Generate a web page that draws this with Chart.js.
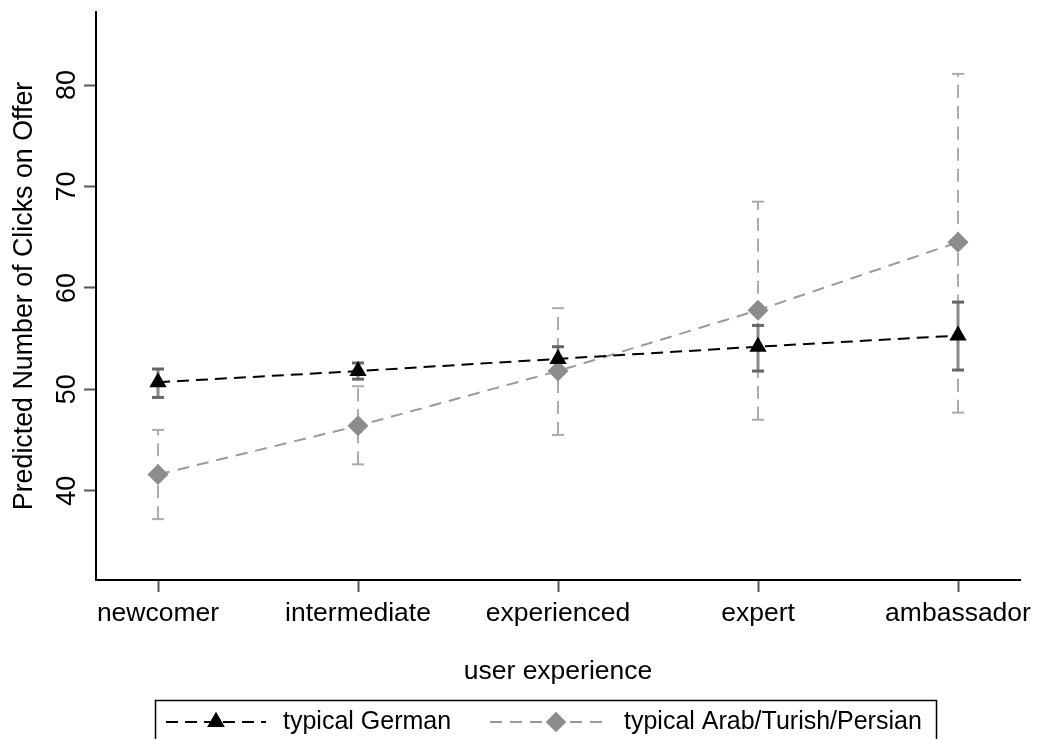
<!DOCTYPE html>
<html>
<head>
<meta charset="utf-8">
<script src="https://cdn.jsdelivr.net/npm/chart.js@4.4.0/dist/chart.umd.min.js"></script>
<style>
  html, body { margin: 0; padding: 0; background: #fff; }
  #wrap { width: 1039px; height: 739px; position: relative; overflow: hidden; }
</style>
</head>
<body>
<div id="wrap"><canvas id="c" width="1039" height="739"></canvas></div>
<script>
// ---- data ----
const categories = ['newcomer', 'intermediate', 'experienced', 'expert', 'ambassador'];
const yTickValues = [40, 50, 60, 70, 80];
const germanMean = [50.7, 51.8, 53.0, 54.2, 55.3];
const germanLow  = [49.2, 51.0, 51.8, 51.8, 51.9];
const germanHigh = [52.0, 52.6, 54.2, 56.3, 58.6];
const arabMean = [41.6, 46.4, 51.8, 57.8, 64.5];
const arabLow  = [37.2, 42.6, 45.5, 47.0, 47.7];
const arabHigh = [46.0, 50.3, 58.0, 68.5, 81.1];
const seriesLabels = ['typical German', 'typical Arab/Turish/Persian'];
const xTitle = 'user experience';
const yTitle = 'Predicted Number of Clicks on Offer';

// ---- helpers to build library structures from the arrays ----
function meanPoints(vals) { return vals.map((v, i) => ({ x: i, y: v })); }
function ciPoints(lo, hi) {
  const out = [];
  lo.forEach((l, i) => { out.push({ x: i, y: l }, { x: i, y: hi[i] }, { x: i, y: null }); });
  return out;
}

const FONT = "'Liberation Sans', Arial, Helvetica, sans-serif";
Chart.defaults.font.family = FONT;
Chart.defaults.color = '#000';

const GERMAN_COLOR = '#000000';
const ARAB_LINE = '#9a9a9a';
const ARAB_MARK = '#8c8c8c';

const datasets = [
  { // German mean line
    label: seriesLabels[0], data: meanPoints(germanMean), order: 1,
    borderColor: GERMAN_COLOR, borderWidth: 2, borderDash: [12, 7],
    pointStyle: 'triangle', pointRadius: 10, pointBackgroundColor: GERMAN_COLOR,
    pointBorderColor: GERMAN_COLOR, pointBorderWidth: 0, tension: 0
  },
  { // Arab mean line
    label: seriesLabels[1], data: meanPoints(arabMean), order: 2,
    borderColor: ARAB_LINE, borderWidth: 2, borderDash: [12, 8],
    pointStyle: 'rectRot', pointRadius: 10.5, pointBackgroundColor: ARAB_MARK,
    pointBorderColor: ARAB_MARK, pointBorderWidth: 0, tension: 0
  },
  { // German CI
    label: 'ci-german', data: ciPoints(germanLow, germanHigh), order: 3,
    borderColor: '#888888', borderWidth: 3, spanGaps: false,
    pointStyle: 'line', pointRadius: 6, pointBorderColor: '#666666', pointBorderWidth: 3,
    pointBackgroundColor: '#666666'
  },
  { // Arab CI
    label: 'ci-arab', data: ciPoints(arabLow, arabHigh), order: 4,
    borderColor: '#ababab', borderWidth: 2, borderDash: [13, 8], spanGaps: false,
    pointStyle: 'line', pointRadius: 6, pointBorderColor: '#ababab', pointBorderWidth: 2,
    pointBackgroundColor: '#ababab'
  }
];

const legendPlugin = {
  id: 'boxLegend',
  afterDraw(chart) {
    const ctx = chart.ctx;
    const dsG = chart.data.datasets[0];
    const dsA = chart.data.datasets[1];
    ctx.save();
    ctx.strokeStyle = '#000';
    ctx.lineWidth = 1.5;
    ctx.strokeRect(155.5, 700.5, 781, 60);
    const yc = 722;
    const items = [
      { ds: dsG, x0: 166, x1: 266, mx: 216, tx: 283, text: seriesLabels[0] },
      { ds: dsA, x0: 490, x1: 606, mx: 556, tx: 624, text: seriesLabels[1] }
    ];
    items.forEach(it => {
      ctx.save();
      ctx.strokeStyle = it.ds.borderColor;
      ctx.lineWidth = it.ds.borderWidth;
      ctx.setLineDash(it.ds.borderDash);
      ctx.beginPath();
      ctx.moveTo(it.x0, yc); ctx.lineTo(it.x1, yc);
      ctx.stroke();
      ctx.restore();
      ctx.save();
      ctx.fillStyle = it.ds.pointBackgroundColor;
      ctx.strokeStyle = it.ds.pointBackgroundColor;
      ctx.lineWidth = 0.01;
      Chart.helpers.drawPoint(ctx, { pointStyle: it.ds.pointStyle, radius: 10, rotation: 0, borderWidth: 0 }, it.mx, yc);
      ctx.fill();
      ctx.restore();
      ctx.fillStyle = '#000';
      ctx.font = '25px ' + FONT;
      ctx.textBaseline = 'middle';
      ctx.textAlign = 'left';
      ctx.fillText(it.text, it.tx, yc);
    });
    ctx.restore();
  }
};

new Chart(document.getElementById('c'), {
  type: 'line',
  data: { datasets },
  plugins: [legendPlugin],
  options: {
    responsive: false,
    animation: false,
    events: [],
    layout: { padding: { top: 12, right: 19, bottom: 39, left: 0 } },
    plugins: { legend: { display: false }, tooltip: { enabled: false } },
    scales: {
      x: {
        type: 'linear', min: -0.31, max: 4.31,
        afterBuildTicks: s => { s.ticks = categories.map((c, i) => ({ value: i })); },
        afterFit: s => { s.height = 120; s.paddingLeft = 0; s.paddingRight = 0; },
        ticks: {
          autoSkip: false, maxRotation: 0, minRotation: 0, padding: 6,
          font: { size: 26.5 }, color: '#000',
          callback: v => categories[v]
        },
        grid: { display: true, drawOnChartArea: false, drawTicks: true, tickLength: 12, tickColor: '#555', tickWidth: 2 },
        border: { display: true, color: '#000', width: 2 },
        title: { display: true, text: xTitle, font: { size: 26.5 }, color: '#000', padding: { top: 27, bottom: 12 } }
      },
      y: {
        type: 'linear', min: 31.2, max: 87.2,
        afterBuildTicks: s => { s.ticks = yTickValues.map(v => ({ value: v })); },
        afterFit: s => { s.width = 96; s.paddingTop = 0; s.paddingBottom = 0; },
        ticks: {
          minRotation: 90, maxRotation: 90, crossAlign: 'center', padding: 1,
          font: { size: 27 }, color: '#000',
          callback: v => String(v)
        },
        grid: { display: true, drawOnChartArea: false, drawTicks: true, tickLength: 12, tickColor: '#555', tickWidth: 2 },
        border: { display: true, color: '#000', width: 2 },
        title: { display: true, text: yTitle, font: { size: 26.8 }, color: '#000', padding: { top: 9, bottom: 0 } }
      }
    }
  }
});
</script>
</body>
</html>
